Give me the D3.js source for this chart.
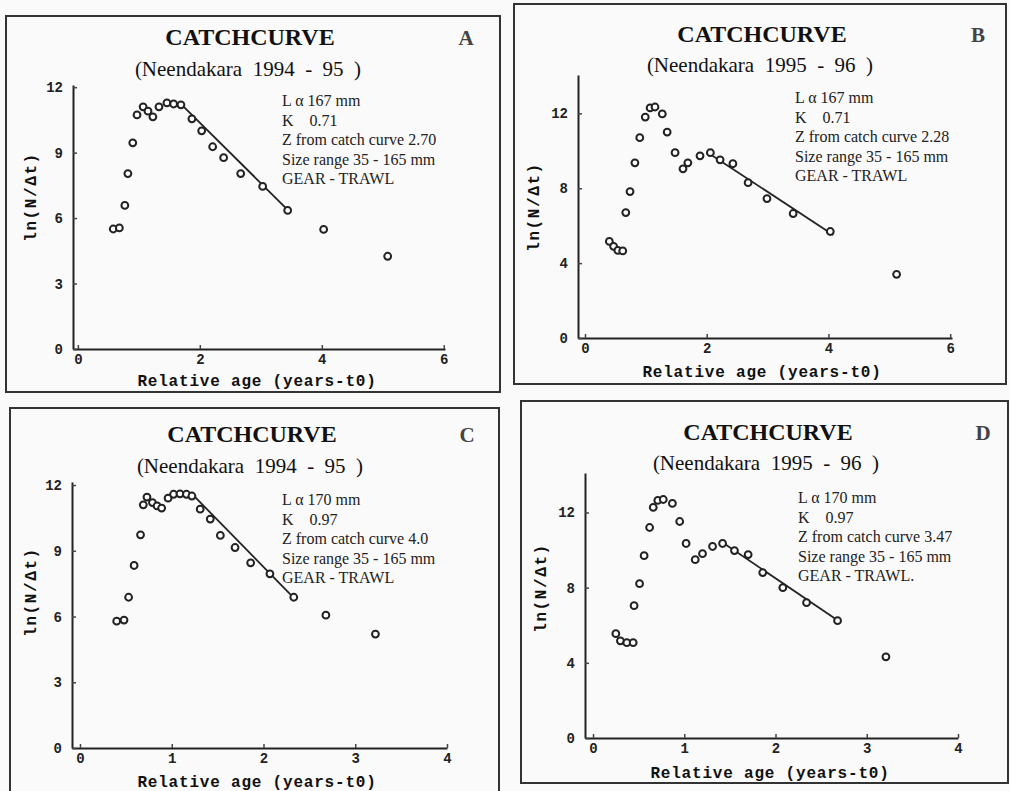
<!DOCTYPE html>
<html lang="en">
<head>
<meta charset="utf-8">
<title>Catch curves - Neendakara</title>
<script src="https://cdn.jsdelivr.net/npm/d3@7"></script>
<style>
  body { margin: 0; background: #fafafa; }
  .mono { font-family: "Liberation Mono", "DejaVu Sans Mono", monospace; font-weight: bold; }
  .serif { font-family: "Liberation Serif", "Times New Roman", serif; }
</style>
</head>
<body>
<svg width="1010" height="791"></svg>
<script>
// ---- data ----
// A: 1994-95, L 167 mm
var ageA = [0.58, 0.68, 0.77, 0.82, 0.90, 0.97, 1.07, 1.15, 1.23, 1.33, 1.46, 1.57, 1.69, 1.87, 2.03, 2.21, 2.39, 2.67, 3.03, 3.44, 4.03, 5.08];
var lnA  = [5.5, 5.55, 6.58, 8.04, 9.45, 10.73, 11.1, 10.9, 10.64, 11.1, 11.28, 11.23, 11.19, 10.55, 10.0, 9.27, 8.77, 8.04, 7.45, 6.35, 5.48, 4.25];
var fitAgeA = [1.70, 3.47], fitLnA = [11.2, 6.3];

// B: 1995-96, L 167 mm
var ageB = [0.40, 0.47, 0.54, 0.62, 0.67, 0.74, 0.82, 0.90, 0.99, 1.07, 1.15, 1.27, 1.35, 1.48, 1.61, 1.69, 1.89, 2.06, 2.22, 2.43, 2.68, 2.99, 3.42, 4.03, 5.12];
var lnB  = [5.16, 4.9, 4.68, 4.65, 6.7, 7.82, 9.36, 10.7, 11.8, 12.29, 12.34, 11.97, 11.0, 9.9, 9.04, 9.36, 9.73, 9.9, 9.52, 9.31, 8.3, 7.45, 6.65, 5.69, 3.4];
var fitAgeB = [2.02, 4.08], fitLnB = [9.9, 5.5];

// C: 1994-95, L 170 mm
var ageC = [0.40, 0.48, 0.53, 0.59, 0.66, 0.69, 0.73, 0.79, 0.84, 0.89, 0.96, 1.02, 1.09, 1.16, 1.22, 1.31, 1.42, 1.53, 1.69, 1.86, 2.07, 2.33, 2.68, 3.22];
var lnC  = [5.79, 5.84, 6.88, 8.33, 9.73, 11.1, 11.45, 11.2, 11.05, 10.95, 11.4, 11.58, 11.6, 11.58, 11.5, 10.9, 10.45, 9.7, 9.15, 8.45, 7.95, 6.88, 6.06, 5.2];
var fitAgeC = [1.22, 2.33], fitLnC = [11.6, 6.85];

// D: 1995-96, L 170 mm
var ageD = [0.25, 0.30, 0.37, 0.44, 0.45, 0.51, 0.56, 0.62, 0.66, 0.71, 0.77, 0.87, 0.95, 1.02, 1.12, 1.20, 1.31, 1.42, 1.55, 1.70, 1.86, 2.08, 2.34, 2.68, 3.21];
var lnD  = [5.55, 5.17, 5.07, 5.07, 7.04, 8.21, 9.7, 11.2, 12.27, 12.64, 12.69, 12.48, 11.52, 10.35, 9.49, 9.81, 10.19, 10.35, 9.97, 9.76, 8.8, 8.0, 7.2, 6.24, 4.32];
var fitAgeD = [1.42, 2.70], fitLnD = [10.4, 6.2];

// ticks
var xTicks6 = [0, 2, 4, 6], xTicks4 = [0, 1, 2, 3, 4];
var yTicks3 = [0, 3, 6, 9, 12], yTicks4 = [0, 4, 8, 12];

// text
var titleText = "CATCHCURVE";
var subA = "(Neendakara  1994  -  95  )", subB = "(Neendakara  1995  -  96  )";
var infoA = ["L α 167 mm", "K    0.71", "Z from catch curve 2.70", "Size range 35 - 165 mm", "GEAR - TRAWL"];
var infoB = ["L α 167 mm", "K    0.71", "Z from catch curve 2.28", "Size range 35 - 165 mm", "GEAR - TRAWL"];
var infoC = ["L α 170 mm", "K    0.97", "Z from catch curve 4.0", "Size range 35 - 165 mm", "GEAR - TRAWL"];
var infoD = ["L α 170 mm", "K    0.97", "Z from catch curve 3.47", "Size range 35 - 165 mm", "GEAR - TRAWL."];
var xTitle = "Relative age (years-t0)", yTitle = "ln(N/Δt)";

// layout of each panel (pixels)
var panels = [
  { id: "A", age: ageA, ln: lnA, fa: fitAgeA, fl: fitLnA, xt: xTicks6, yt: yTicks3, sub: subA, info: infoA,
    frame: [6, 16, 494, 376], ox: 73, oxEnd: 445, xDom: [-0.08, 6.02], oy: 349, oyTop: 85, yMax: 12.1,
    tx: 250, ty: 45, lx: 466, sy: 76, ix: 282, iy: 106, ytx: 30, yty: 197, xtx: 257, xty: 386 },
  { id: "B", age: ageB, ln: lnB, fa: fitAgeB, fl: fitLnB, xt: xTicks6, yt: yTicks4, sub: subB, info: infoB,
    frame: [514, 4, 492, 380], ox: 578, oxEnd: 952, xDom: [-0.115, 6.03], oy: 338, oyTop: 75, yMax: 14.05,
    tx: 762, ty: 42, lx: 978, sy: 72, ix: 795, iy: 103, ytx: 533, yty: 207, xtx: 762, xty: 377 },
  { id: "C", age: ageC, ln: lnC, fa: fitAgeC, fl: fitLnC, xt: xTicks4, yt: yTicks3, sub: subA, info: infoC,
    frame: [10, 408, 489, 390], ox: 72, oxEnd: 447, xDom: [-0.087, 4.0], oy: 748, oyTop: 482, yMax: 12.14,
    tx: 252, ty: 442, lx: 467, sy: 473, ix: 282, iy: 505, ytx: 30, yty: 592, xtx: 257, xty: 787 },
  { id: "D", age: ageD, ln: lnD, fa: fitAgeD, fl: fitLnD, xt: xTicks4, yt: yTicks4, sub: subB, info: infoD,
    frame: [521, 401, 487, 382], ox: 585, oxEnd: 958, xDom: [-0.088, 4.0], oy: 738, oyTop: 473, yMax: 14.1,
    tx: 768, ty: 440, lx: 983, sy: 470, ix: 798, iy: 503, ytx: 540, yty: 588, xtx: 770, xty: 778 }
];

var svg = d3.select("svg");

panels.forEach(function(p) {
  var g = svg.append("g");

  // frame
  g.append("rect")
    .attr("x", p.frame[0]).attr("y", p.frame[1])
    .attr("width", p.frame[2]).attr("height", p.frame[3])
    .attr("fill", "none").attr("stroke", "#333").attr("stroke-width", 2);

  var x = d3.scaleLinear().domain(p.xDom).range([p.ox, p.oxEnd]);
  var y = d3.scaleLinear().domain([0, p.yMax]).range([p.oy, p.oyTop]);

  // axes, ticks pointing into the plot
  var xAxis = g.append("g")
    .attr("class", "mono")
    .attr("transform", "translate(0," + p.oy + ")")
    .call(d3.axisBottom(x).tickValues(p.xt).tickFormat(d3.format("d"))
      .tickSizeInner(-4).tickSizeOuter(0).tickPadding(5));
  var yAxis = g.append("g")
    .attr("class", "mono")
    .attr("transform", "translate(" + p.ox + ",0)")
    .call(d3.axisLeft(y).tickValues(p.yt).tickFormat(d3.format("d"))
      .tickSizeInner(-4).tickSizeOuter(0).tickPadding(10));

  [xAxis, yAxis].forEach(function(a) {
    a.select(".domain").attr("stroke", "#222").attr("stroke-width", 2);
    a.selectAll(".tick line").attr("stroke", "#444").attr("stroke-width", 1.5);
    a.selectAll(".tick text").attr("fill", "#222").attr("font-size", 14);
  });

  // fitted regression line
  var fit = p.fa.map(function(a, i) { return [a, p.fl[i]]; });
  g.append("path")
    .datum(fit)
    .attr("fill", "none").attr("stroke", "#222").attr("stroke-width", 1.8)
    .attr("d", d3.line().x(function(d) { return x(d[0]); }).y(function(d) { return y(d[1]); }));

  // points
  var pts = p.age.map(function(a, i) { return { age: a, ln: p.ln[i] }; });
  g.selectAll(".pt")
    .data(pts)
    .enter().append("circle")
    .attr("class", "pt")
    .attr("cx", function(d) { return x(d.age); })
    .attr("cy", function(d) { return y(d.ln); })
    .attr("r", 3.4)
    .attr("fill", "#fff").attr("stroke", "#222").attr("stroke-width", 2);

  // titles
  g.append("text").attr("class", "serif")
    .attr("x", p.tx).attr("y", p.ty).attr("text-anchor", "middle")
    .attr("font-size", 24).attr("font-weight", "bold").attr("fill", "#111")
    .text(titleText);
  g.append("text").attr("class", "serif")
    .attr("x", p.lx).attr("y", p.ty).attr("text-anchor", "middle")
    .attr("font-size", 21).attr("font-weight", "bold").attr("fill", "#444")
    .text(p.id);
  g.append("text").attr("class", "serif")
    .attr("x", p.tx - 2).attr("y", p.sy).attr("text-anchor", "middle")
    .attr("font-size", 21).attr("fill", "#111")
    .style("white-space", "pre")
    .text(p.sub);

  // info block
  g.selectAll(".info")
    .data(p.info)
    .enter().append("text")
    .attr("class", "serif info")
    .attr("x", p.ix)
    .attr("y", function(d, i) { return p.iy + i * 19.5; })
    .attr("font-size", 16).attr("fill", "#222")
    .style("white-space", "pre")
    .text(function(d) { return d; });

  // axis titles
  g.append("text").attr("class", "mono")
    .attr("x", p.xtx).attr("y", p.xty).attr("text-anchor", "middle")
    .attr("font-size", 16).attr("letter-spacing", 0.8).attr("fill", "#111")
    .text(xTitle);
  g.append("text").attr("class", "mono")
    .attr("transform", "translate(" + p.ytx + "," + p.yty + ") rotate(-90)")
    .attr("text-anchor", "middle").attr("dy", "0.35em")
    .attr("font-size", 16).attr("letter-spacing", 1.6).attr("fill", "#111")
    .text(yTitle);
});
</script>
</body>
</html>
